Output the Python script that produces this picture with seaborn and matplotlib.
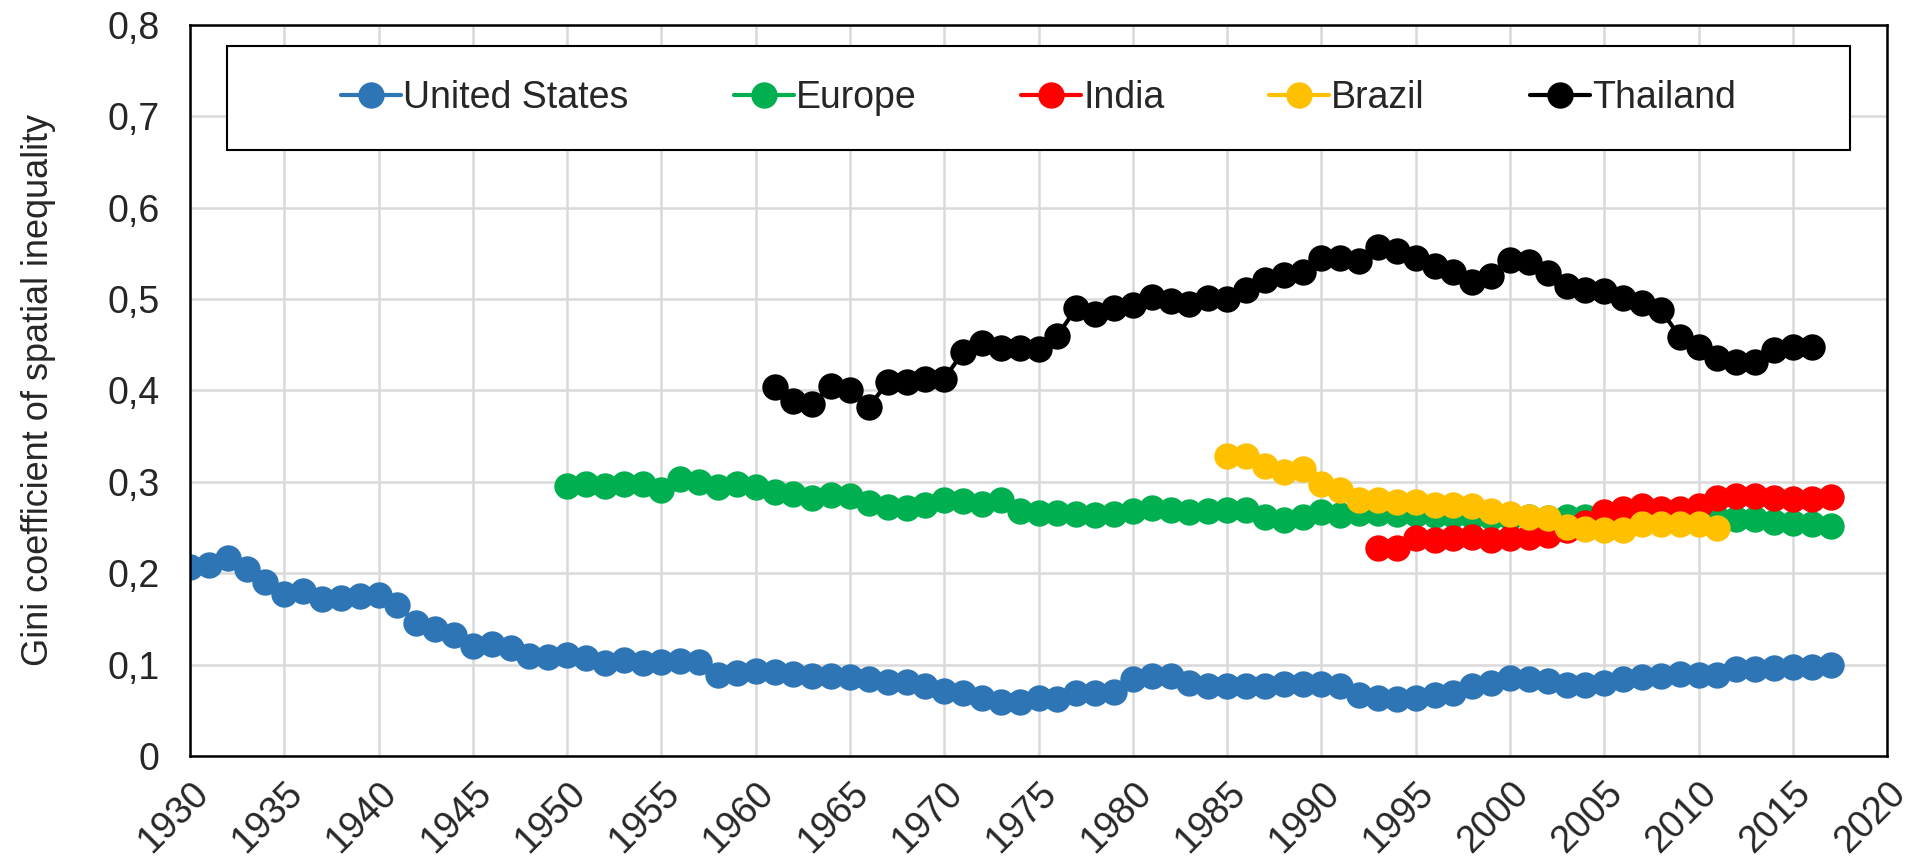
# Gini coefficient of spatial inequality, several regions
import matplotlib
matplotlib.use('Agg')
import matplotlib.pyplot as plt
from matplotlib.patches import Rectangle
from matplotlib.ticker import FuncFormatter, MultipleLocator
import seaborn as sns
import pandas as pd

# Data
us_years = list(range(1930, 2018))
us_gini = [0.207, 0.209, 0.217, 0.205, 0.190, 0.177, 0.180, 0.172, 0.173, 0.175,
           0.176, 0.165, 0.146, 0.139, 0.132, 0.120, 0.122, 0.118, 0.109, 0.108,
           0.110, 0.107, 0.102, 0.105, 0.102, 0.103, 0.104, 0.103, 0.089, 0.091,
           0.093, 0.092, 0.090, 0.088, 0.088, 0.086, 0.084, 0.081, 0.081, 0.077,
           0.071, 0.069, 0.063, 0.059, 0.059, 0.063, 0.062, 0.069, 0.069, 0.070,
           0.084, 0.088, 0.088, 0.080, 0.077, 0.077, 0.077, 0.077, 0.079, 0.079,
           0.079, 0.076, 0.067, 0.063, 0.062, 0.063, 0.067, 0.069, 0.077, 0.080,
           0.085, 0.084, 0.082, 0.078, 0.078, 0.080, 0.084, 0.086, 0.088, 0.090,
           0.089, 0.089, 0.095, 0.095, 0.096, 0.097, 0.097, 0.100]

europe_years = list(range(1950, 2018))
europe_gini = [0.295, 0.298, 0.295, 0.298, 0.298, 0.291, 0.303, 0.300, 0.294, 0.298,
               0.294, 0.289, 0.287, 0.282, 0.286, 0.284, 0.277, 0.272, 0.271, 0.275,
               0.280, 0.279, 0.276, 0.280, 0.268, 0.266, 0.266, 0.265, 0.264, 0.265,
               0.268, 0.271, 0.269, 0.267, 0.268, 0.269, 0.269, 0.262, 0.258, 0.262,
               0.267, 0.264, 0.266, 0.266, 0.265, 0.265, 0.264, 0.264, 0.263, 0.262,
               0.262, 0.261, 0.260, 0.261, 0.262, 0.260, 0.259, 0.260, 0.260, 0.259,
               0.260, 0.260, 0.259, 0.259, 0.256, 0.255, 0.254, 0.252]

india_years = list(range(1993, 2018))
india_gini = [0.228, 0.228, 0.238, 0.236, 0.238, 0.240, 0.236, 0.238, 0.240, 0.242,
              0.247, 0.255, 0.267, 0.270, 0.274, 0.270, 0.270, 0.273, 0.282, 0.284,
              0.284, 0.282, 0.281, 0.281, 0.283]

brazil_years = list(range(1985, 2012))
brazil_gini = [0.328, 0.328, 0.317, 0.311, 0.314, 0.298, 0.291, 0.280, 0.280, 0.278,
               0.278, 0.275, 0.275, 0.273, 0.268, 0.265, 0.262, 0.260, 0.251, 0.248,
               0.247, 0.247, 0.254, 0.254, 0.254, 0.254, 0.249]

thailand_years = list(range(1961, 2017))
thailand_gini = [0.404, 0.388, 0.385, 0.405, 0.401, 0.382, 0.409, 0.409, 0.413, 0.413,
                 0.442, 0.452, 0.446, 0.446, 0.445, 0.460, 0.490, 0.484, 0.490, 0.494,
                 0.502, 0.498, 0.495, 0.501, 0.500, 0.510, 0.521, 0.526, 0.530, 0.545,
                 0.545, 0.542, 0.557, 0.553, 0.545, 0.536, 0.530, 0.519, 0.525, 0.543,
                 0.541, 0.529, 0.514, 0.510, 0.509, 0.501, 0.496, 0.488, 0.459, 0.448,
                 0.436, 0.431, 0.431, 0.444, 0.448, 0.448]

regions = ['United States', 'Europe', 'India', 'Brazil', 'Thailand']
colors = ['#2E75B6', '#00B050', '#FF0000', '#FFC000', '#000000']

series = [(us_years, us_gini), (europe_years, europe_gini),
          (india_years, india_gini), (brazil_years, brazil_gini),
          (thailand_years, thailand_gini)]

frames = []
for name, (yrs, vals) in zip(regions, series):
    frames.append(pd.DataFrame({'year': yrs, 'gini': vals, 'region': name}))
df = pd.concat(frames, ignore_index=True)

sns.set_style('white')
plt.rcParams['font.family'] = ['Liberation Sans', 'DejaVu Sans']

fig = plt.figure(figsize=(19.1, 8.59), dpi=100)
ax = fig.add_axes([0.0995, 0.12, 0.8885, 0.851])

msize = 19
sns.lineplot(data=df, x='year', y='gini', hue='region', hue_order=regions,
             palette=colors, marker='o', markersize=msize, linewidth=3,
             markeredgewidth=0, ax=ax, legend=False)

ax.set_xlim(1930, 2020)
ax.set_ylim(0, 0.8)
ax.xaxis.set_major_locator(MultipleLocator(5))
ax.yaxis.set_major_locator(MultipleLocator(0.1))
ax.yaxis.set_major_formatter(FuncFormatter(
    lambda v, p: '0' if abs(v) < 1e-9 else ('%.1f' % v).replace('.', ',')))

ax.grid(True, color='#D9D9D9', linewidth=1.8)
ax.set_axisbelow(True)
for s in ax.spines.values():
    s.set_color('black')
    s.set_linewidth(1.8)

ax.tick_params(axis='both', length=0, labelsize=27)
ax.tick_params(axis='y', pad=22)
ax.tick_params(axis='x', pad=14)
plt.setp(ax.get_xticklabels(), rotation=45, ha='right', rotation_mode='anchor')

ax.set_xlabel('')
ax.set_ylabel('Gini coefficient of spatial inequality', fontsize=26)
ax.yaxis.set_label_coords(-0.079, 0.5)

# Legend frame drawn separately, entries centered inside it
ax.add_patch(Rectangle((0.022, 0.829), 0.956, 0.142, transform=ax.transAxes,
                       facecolor='white', edgecolor='black', linewidth=1.5,
                       zorder=5))
handles = [plt.Line2D([], [], color=c, marker='o', markersize=msize, linewidth=3,
                      markeredgewidth=0) for c in colors]
leg = ax.legend(handles, regions, ncol=5, loc='center',
                bbox_to_anchor=(0.5, 0.9), frameon=False, fontsize=27,
                handlelength=1.6, handletextpad=0.05, columnspacing=2.8)
leg.set_zorder(6)

fig.savefig('out.png', dpi=100)
